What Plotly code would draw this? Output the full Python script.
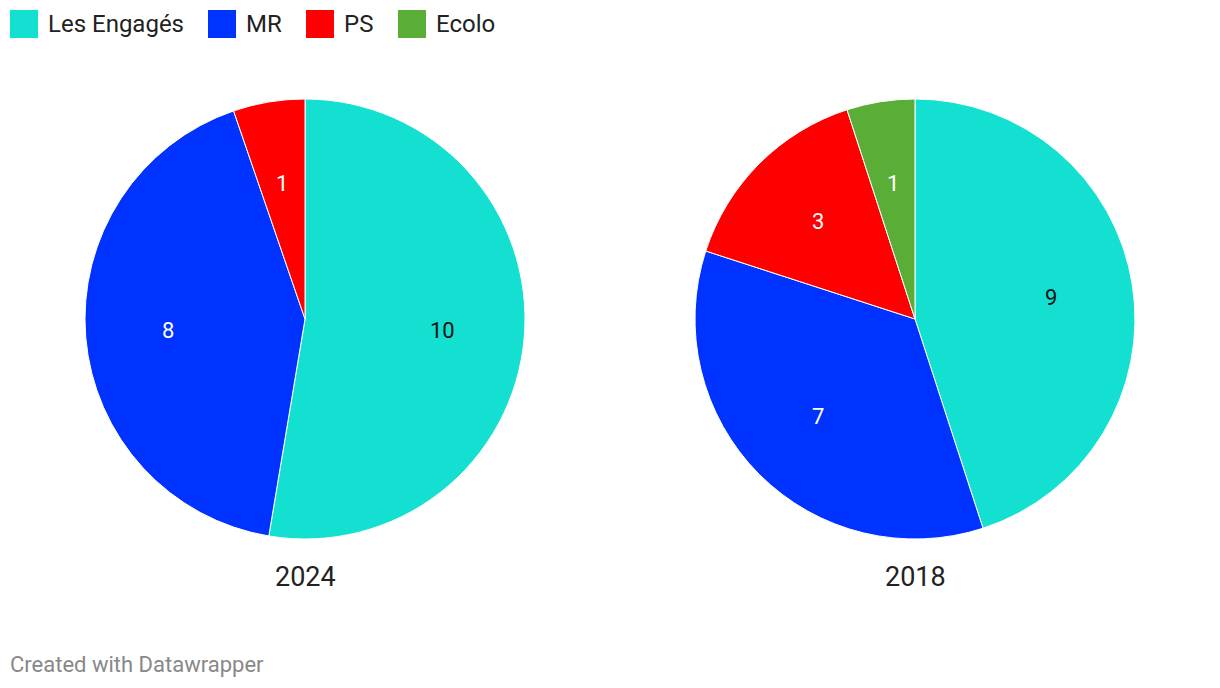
import math
import plotly.graph_objects as go

parties = ["Les Engagés", "MR", "PS", "Ecolo"]
colors = ["#13e0d0", "#0033ff", "#ff0000", "#5aae38"]
years = ["2024", "2018"]
seats_2024 = [10, 8, 1, 0]
seats_2018 = [9, 7, 3, 1]

# the page body adds an 8px offset; work in reference pixel coordinates
OFF = 8
W, H = 1220 - OFF, 688 - OFF
FONT = "Roboto"
PAD = 2  # annotation box padding


def px(x):
    return (x - OFF) / W


def py(y):
    return 1 - (y - OFF) / H


fig = go.Figure()
centers = [305, 915]
CY, R = 319, 220
for vals, cx, yr in zip([seats_2024, seats_2018], centers, years):
    labs = [p for p, v in zip(parties, vals) if v > 0]
    vs = [v for v in vals if v > 0]
    cols = [c for c, v in zip(colors, vals) if v > 0]
    fig.add_trace(go.Pie(
        labels=labs, values=vs,
        domain=dict(x=[px(cx - R), px(cx + R)], y=[py(CY + R), py(CY - R)]),
        sort=False, direction="clockwise", rotation=0,
        marker=dict(colors=cols, line=dict(color="#ffffff", width=1)),
        textinfo="none", showlegend=False, hoverinfo="label+value", name=yr,
    ))

annotations = []
# slice value labels, placed on each slice's mid-angle
for vals, cx in zip([seats_2024, seats_2018], centers):
    total = sum(vals)
    cum = 0
    for p, v in zip(parties, vals):
        if v <= 0:
            continue
        mid = (cum + v / 2) / total * 2 * math.pi
        cum += v
        lx = cx + 0.625 * R * math.sin(mid)
        ly = CY - 0.625 * R * math.cos(mid)
        annotations.append(dict(
            text=str(v), xref="paper", yref="paper", x=px(lx), y=py(ly),
            xanchor="center", yanchor="middle", showarrow=False,
            font=dict(family=FONT, size=22,
                      color="#111111" if p == "Les Engagés" else "#ffffff")))

shapes = []
legend_x = [10, 208, 306, 398]
for p, c, x0 in zip(parties, colors, legend_x):
    shapes.append(dict(type="rect", xref="paper", yref="paper",
                       x0=px(x0), x1=px(x0 + 28), y0=py(38), y1=py(10),
                       fillcolor=c, line=dict(width=0)))
    annotations.append(dict(text=p, xref="paper", yref="paper",
                            x=px(x0 + 38 - PAD), y=py(24), xanchor="left", yanchor="middle",
                            showarrow=False, font=dict(family=FONT, size=24, color="#222222")))

for yr, cx in zip(years, centers):
    annotations.append(dict(text=yr, xref="paper", yref="paper",
                            x=px(cx), y=py(577), xanchor="center", yanchor="middle",
                            showarrow=False, font=dict(family=FONT, size=27, color="#222222")))

annotations.append(dict(text="Created with Datawrapper", xref="paper", yref="paper",
                        x=px(10 - PAD), y=py(664), xanchor="left", yanchor="middle",
                        showarrow=False, font=dict(family=FONT, size=22, color="#888888")))

fig.update_layout(
    width=W, height=H, margin=dict(l=0, r=0, t=0, b=0),
    paper_bgcolor="#ffffff", plot_bgcolor="#ffffff",
    shapes=shapes, annotations=annotations, showlegend=False,
    font=dict(family=FONT),
)
fig.write_html("out.html")
